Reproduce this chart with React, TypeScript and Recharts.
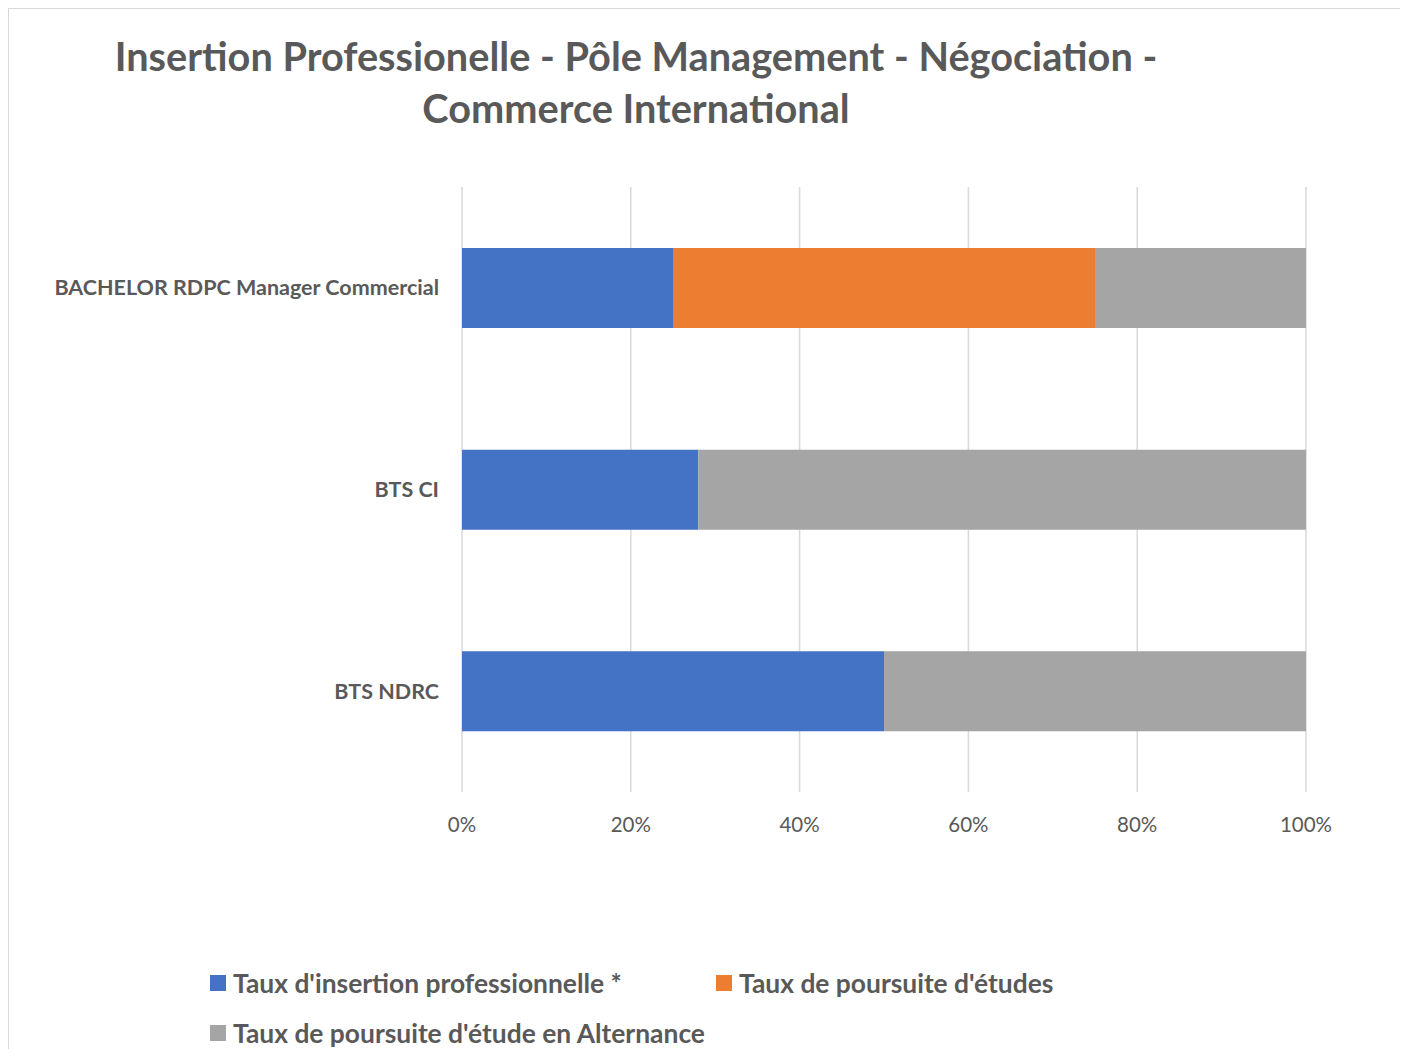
import React from 'react';
import { BarChart, Bar, XAxis, YAxis, CartesianGrid } from 'recharts';

const categories = ['BACHELOR RDPC Manager Commercial', 'BTS CI', 'BTS NDRC'];
const insertion = [25, 28, 50];
const poursuite = [50, 0, 0];
const alternance = [25, 72, 50];
const xTicks = [0, 20, 40, 60, 80, 100];

const series = [
  { key: 'insertion', name: "Taux d'insertion professionnelle *", color: '#4472C4' },
  { key: 'poursuite', name: "Taux de poursuite d'études", color: '#ED7D31' },
  { key: 'alternance', name: "Taux de poursuite d'étude en Alternance", color: '#A5A5A5' },
];

const data = categories.map((name, i) => ({
  name,
  insertion: insertion[i],
  poursuite: poursuite[i],
  alternance: alternance[i],
}));

const font = 'Lato, "Open Sans", sans-serif';

const LegendItem = ({ s, left, top }: { s: typeof series[number]; left: number; top: number }) => (
  <div style={{ position: 'absolute', left, top, height: 32, display: 'flex', alignItems: 'center', whiteSpace: 'nowrap' }}>
    <span style={{ width: 16, height: 16, background: s.color, display: 'inline-block', marginRight: 7 }} />
    <span style={{ fontSize: 26.4, fontWeight: 700, color: '#595959', lineHeight: '32px' }}>{s.name}</span>
  </div>
);

export default function App() {
  return (
    <div
      style={{
        position: 'relative',
        width: 1394,
        height: 1040,
        border: '1px solid #d9d9d9',
        borderBottom: 'none',
        background: '#fff',
        fontFamily: font,
        overflow: 'hidden',
      }}
    >
      <div
        style={{
          position: 'absolute',
          left: 0,
          width: 1254,
          top: 21,
          textAlign: 'center',
          fontSize: 39.7,
          fontWeight: 700,
          color: '#595959',
          lineHeight: '52px',
        }}
      >
        Insertion Professionelle - Pôle Management - Négociation -<br />
        Commerce International
      </div>

      <div style={{ position: 'absolute', left: 0, top: 0 }}>
        <BarChart
          width={1394}
          height={1040}
          data={data}
          layout="vertical"
          barSize={80}
          margin={{ top: 178, right: 97, bottom: 188, left: 0 }}
        >
          <CartesianGrid horizontal={false} stroke="#d9d9d9" strokeWidth={1.5} />
          <XAxis
            type="number"
            domain={[0, 100]}
            ticks={xTicks}
            tickFormatter={(v: number) => `${v}%`}
            axisLine={false}
            tickLine={false}
            tickMargin={19}
            height={69}
            tick={{ fill: '#595959', fontSize: 20.5, fontFamily: font }}
          />
          <YAxis
            type="category"
            dataKey="name"
            width={453}
            axisLine={false}
            tickLine={false}
            tickMargin={17}
            tick={{ fill: '#595959', fontSize: 21.5, fontWeight: 700, fontFamily: font }}
          />
          {series.map((s) => (
            <Bar key={s.key} dataKey={s.key} name={s.name} stackId="a" fill={s.color} isAnimationActive={false} />
          ))}
        </BarChart>
      </div>

      <LegendItem s={series[0]} left={201} top={958} />
      <LegendItem s={series[1]} left={707} top={958} />
      <LegendItem s={series[2]} left={201} top={1008} />
    </div>
  );
}
